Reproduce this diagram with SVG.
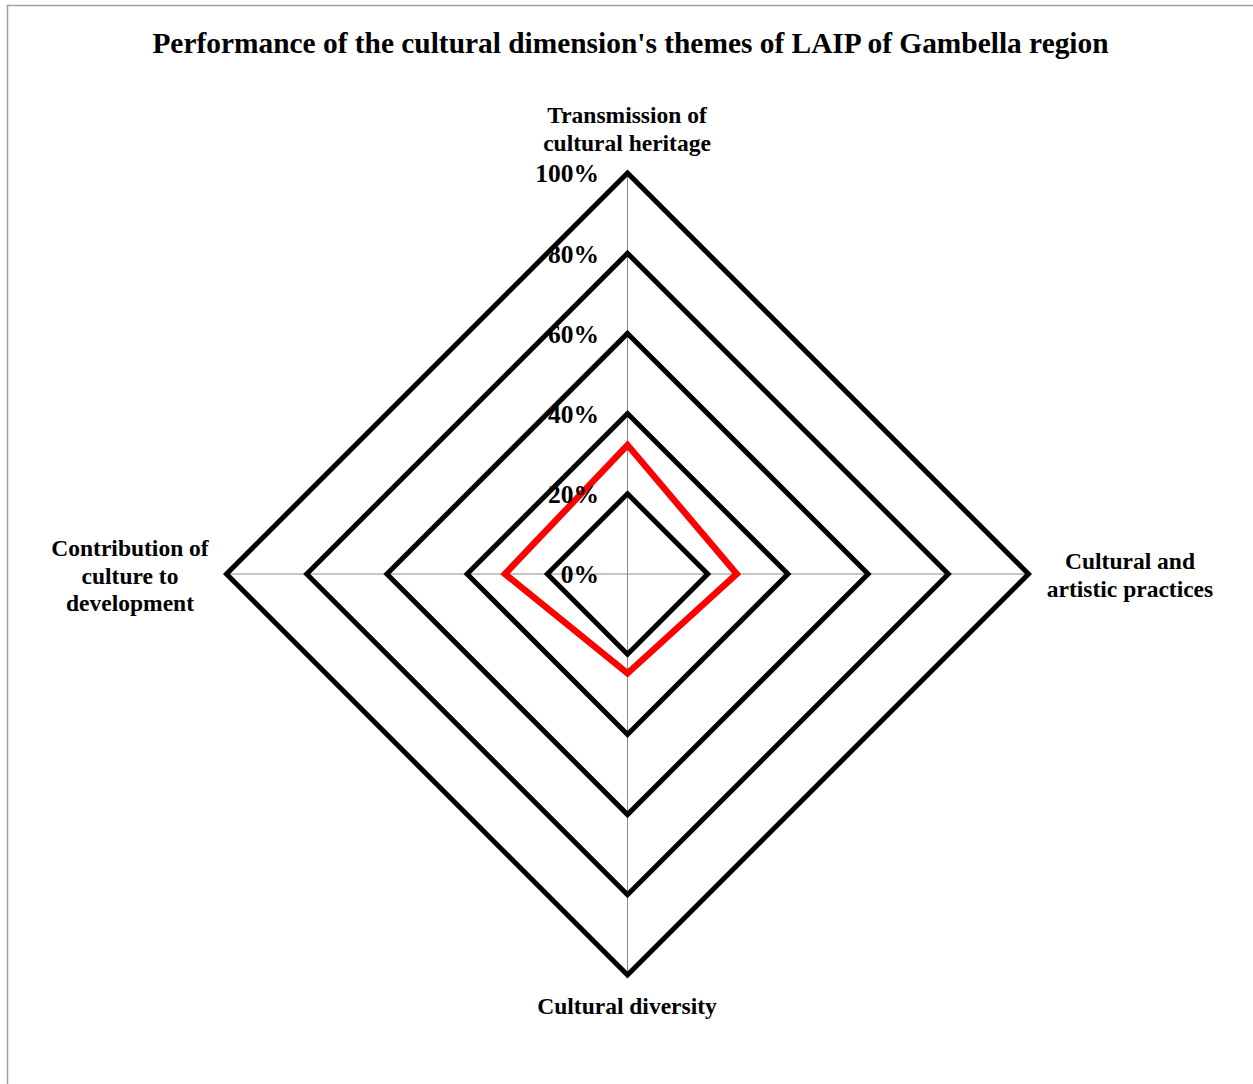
<svg xmlns="http://www.w3.org/2000/svg" width="1253" height="1084" viewBox="0 0 1253 1084">
<style>
.t{font-family:"Liberation Serif","Times New Roman",serif;font-weight:bold;fill:#000}
.title{font-size:29.4px}
.cat{font-size:23.5px;text-anchor:middle}
.tick{font-size:25.5px;text-anchor:end}
.ring{fill:none;stroke:#000;stroke-width:5;stroke-linejoin:miter}
.axis{stroke:#8c8c8c;stroke-width:1}
.series{fill:none;stroke:#ff0000;stroke-width:6.5;stroke-linejoin:miter}
</style>
<rect x="0" y="0" width="1253" height="1084" fill="#fff"/>
<path d="M7.5 1084 V5.5 H1253" fill="none" stroke="#a0a0a0" stroke-width="1.5"/>
<text class="t title" x="630.5" y="53" text-anchor="middle">Performance of the cultural dimension's themes of LAIP of Gambella region</text>
<g id="axes">
<line class="axis" x1="627.5" y1="173" x2="627.5" y2="975"/>
<line class="axis" x1="226.5" y1="574" x2="1028.5" y2="574"/>
</g>
<g id="rings">
<polygon class="ring" points="627.5,493.8 707.7,574 627.5,654.2 547.3,574"/>
<polygon class="ring" points="627.5,413.6 787.9,574 627.5,734.4 467.1,574"/>
<polygon class="ring" points="627.5,333.4 868.1,574 627.5,814.6 386.9,574"/>
<polygon class="ring" points="627.5,253.2 948.3,574 627.5,894.8 306.7,574"/>
<polygon class="ring" points="627.5,173 1028.5,574 627.5,975 226.5,574"/>
</g>
<g id="series">
<polygon class="series" points="627.5,445 736.7,574 627.5,673.3 505,574"/>
</g>
<g id="tick-labels">
<text class="t tick" x="599" y="583">0%</text>
<text class="t tick" x="599" y="503">20%</text>
<text class="t tick" x="599" y="423">40%</text>
<text class="t tick" x="599" y="343">60%</text>
<text class="t tick" x="599" y="263">80%</text>
<text class="t tick" x="599" y="182">100%</text>
</g>
<g id="node-transmission">
<text class="t cat" x="627" y="123">Transmission of</text>
<text class="t cat" x="627" y="151">cultural heritage</text>
</g>
<g id="node-artistic">
<text class="t cat" x="1130" y="569">Cultural and</text>
<text class="t cat" x="1130" y="597">artistic practices</text>
</g>
<g id="node-diversity">
<text class="t cat" x="627" y="1014">Cultural diversity</text>
</g>
<g id="node-development">
<text class="t cat" x="130" y="556">Contribution of</text>
<text class="t cat" x="130" y="584">culture to</text>
<text class="t cat" x="130" y="611">development</text>
</g>
</svg>
